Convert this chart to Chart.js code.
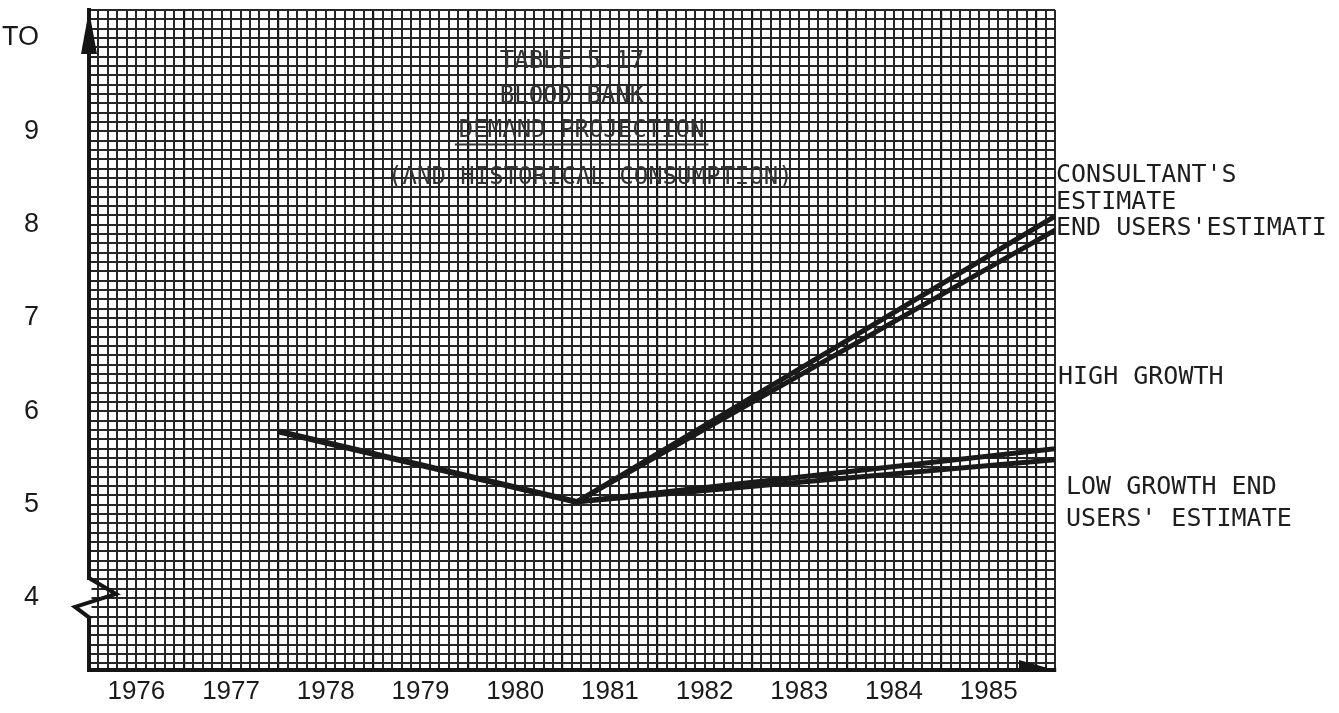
<!DOCTYPE html>
<html><head><meta charset="utf-8">
<script src="https://cdn.jsdelivr.net/npm/chart.js@4.4.0/dist/chart.umd.min.js"></script>
<style>html,body{margin:0;padding:0;background:#fff;}#wrap{width:1339px;height:713px;}</style>
</head><body><div id="wrap"><canvas id="c" width="1339" height="713"></canvas></div>
<script>
// ---- data ----
const xTickYears = [1976, 1977, 1978, 1979, 1980, 1981, 1982, 1983, 1984, 1985];
const xTickLabels = ['1976', '1977', '1978', '1979', '1980', '1981', '1982', '1983', '1984', '1985'];
const yTickValues = [4, 5, 6, 7, 8, 9, 10];
const yTickLabels = ['4', '5', '6', '7', '8', '9', 'TO'];
const historicalYears = [1977.52, 1980.65];
const historicalValues = [5.78, 5.03];
const projectionYears = [1980.65, 1985.7];
const consultantValues = [5.03, 8.09];
const endUsersValues = [5.03, 7.94];
const highGrowthValues = [5.03, 5.60];
const lowGrowthValues = [5.03, 5.48];
const titleLines = ['TABLE 5.17', 'BLOOD BANK', 'DEMAND PROJECTION', '(AND HISTORICAL CONSUMPTION)'];
const sideLabels = [["CONSULTANT'S", 'ESTIMATE'], ["END USERS'ESTIMATI"], ['HIGH GROWTH'], ['LOW GROWTH END', "USERS' ESTIMATE"]];

// ---- layout (not data) ----
const X_MIN = 1975.5, X_MAX = 1985.7, Y_MIN = 3.228, Y_MAX = 10.3;
const GRID_STEP = 0.1;
const sideLabelAnchors = [[8.53, 8.24], [7.96], [6.36], [5.18, 4.84]];
const sideLabelDx = [0, 0, 2, 10];
const titleAnchors = [{v: 9.74, dx: 0.50}, {v: 9.37, dx: 0.50}, {v: 9.01, dx: 0.510}, {v: 8.50, dx: 0.519}];

const r1 = v => Math.round(v * 10) / 10;
const gridTicks = (lo, hi) => { const out = []; for (let k = Math.ceil(lo / GRID_STEP - 1e-6); k * GRID_STEP <= hi + 1e-6; k++) out.push({value: r1(k * GRID_STEP)}); return out; };
const pts = (xs, ys) => xs.map((x, i) => ({x, y: ys[i]}));
const lineStyle = {borderColor: '#1a1a1a', borderWidth: 6, pointRadius: 0, fill: false, tension: 0, borderCapStyle: 'round', borderJoinStyle: 'round'};
const MONO = '"DejaVu Sans Mono", "Liberation Mono", monospace';

const decor = {
  id: 'decor',
  afterDatasetsDraw(chart) {
    const {ctx, chartArea: a, scales} = chart;
    const ys = scales.y;
    ctx.save();
    ctx.font = '24px ' + MONO;
    ctx.fillStyle = '#333';
    ctx.textAlign = 'center';
    ctx.textBaseline = 'middle';
    titleLines.forEach((t, i) => {
      const x = a.left + titleAnchors[i].dx * (a.right - a.left);
      const y = ys.getPixelForValue(titleAnchors[i].v);
      ctx.fillText(t, x, y);
      if (i === 2) {
        const w = ctx.measureText(t).width;
        ctx.strokeStyle = '#333';
        ctx.lineWidth = 2;
        ctx.beginPath();
        ctx.moveTo(x - w / 2 - 4, y + 14);
        ctx.lineTo(x + w / 2 + 4, y + 14);
        ctx.stroke();
      }
    });
    ctx.restore();
  },
  afterDraw(chart) {
    const {ctx, chartArea: a, scales} = chart;
    const ys = scales.y;
    ctx.save();
    ctx.fillStyle = '#151515';
    ctx.beginPath();
    ctx.moveTo(a.left, a.top);
    ctx.lineTo(a.left + 8, a.top + 44);
    ctx.lineTo(a.left - 8, a.top + 44);
    ctx.closePath();
    ctx.fill();
    ctx.beginPath();
    ctx.moveTo(a.right, a.bottom);
    ctx.lineTo(a.right - 36, a.bottom - 10);
    ctx.lineTo(a.right - 36, a.bottom + 2);
    ctx.closePath();
    ctx.fill();
    const y4 = ys.getPixelForValue(4);
    ctx.strokeStyle = '#ffffff';
    ctx.lineWidth = 5;
    ctx.beginPath();
    ctx.moveTo(a.left, y4 - 18);
    ctx.lineTo(a.left, y4 + 18);
    ctx.stroke();
    ctx.strokeStyle = '#151515';
    ctx.lineWidth = 4;
    ctx.lineJoin = 'miter';
    ctx.beginPath();
    ctx.moveTo(a.left, y4 - 20);
    ctx.lineTo(a.left + 27, y4 - 4);
    ctx.lineTo(a.left - 14, y4 + 9);
    ctx.lineTo(a.left + 2, y4 + 21);
    ctx.stroke();
    ctx.font = '25px ' + MONO;
    ctx.fillStyle = '#1e1e1e';
    ctx.textAlign = 'left';
    ctx.textBaseline = 'middle';
    sideLabels.forEach((lines, i) => {
      lines.forEach((t, j) => {
        ctx.fillText(t, a.right + 1 + sideLabelDx[i], ys.getPixelForValue(sideLabelAnchors[i][j]));
      });
    });
    ctx.restore();
  }
};

const isMajorX = v => Math.abs(Math.round(v * 10) % 10) === 5;

new Chart(document.getElementById('c'), {
  type: 'line',
  data: {
    datasets: [
      Object.assign({label: 'Historical consumption', data: pts(historicalYears, historicalValues)}, lineStyle),
      Object.assign({label: "Consultant's estimate", data: pts(projectionYears, consultantValues)}, lineStyle, {borderWidth: 5}),
      Object.assign({label: "End users' estimate", data: pts(projectionYears, endUsersValues)}, lineStyle, {borderWidth: 5}),
      Object.assign({label: 'High growth', data: pts(projectionYears, highGrowthValues)}, lineStyle, {borderWidth: 5}),
      Object.assign({label: "Low growth end users' estimate", data: pts(projectionYears, lowGrowthValues)}, lineStyle, {borderWidth: 5})
    ]
  },
  options: {
    responsive: false,
    animation: false,
    devicePixelRatio: 1,
    layout: {padding: {top: 10, right: 284, left: 0, bottom: 0}},
    plugins: {legend: {display: false}, tooltip: {enabled: false}},
    scales: {
      x: {
        type: 'linear', position: 'bottom', min: X_MIN, max: X_MAX,
        afterFit: s => { s.height = 43; s.paddingLeft = 0; s.paddingRight = 0; },
        afterBuildTicks: s => { s.ticks = gridTicks(X_MIN, X_MAX); },
        ticks: {
          autoSkip: false, maxRotation: 0, minRotation: 0, padding: 6, color: '#1a1a1a',
          font: {family: '"Liberation Sans", Arial, sans-serif', size: 26},
          callback: v => { const i = xTickYears.indexOf(r1(v)); return i >= 0 ? xTickLabels[i] : ''; }
        },
        grid: {drawTicks: false, color: c => (isMajorX(c.tick.value) ? '#151515' : '#262626'), lineWidth: c => (isMajorX(c.tick.value) ? 2.2 : 2)},
        border: {display: true, color: '#151515', width: 4}
      },
      y: {
        type: 'linear', position: 'left', min: Y_MIN, max: Y_MAX,
        afterFit: s => { s.width = 89; s.paddingTop = 0; s.paddingBottom = 0; },
        afterBuildTicks: s => { s.ticks = gridTicks(Y_MIN, Y_MAX); },
        ticks: {
          autoSkip: false, padding: 50, color: '#1a1a1a',
          font: {family: '"Liberation Sans", Arial, sans-serif', size: 27},
          callback: v => { const i = yTickValues.indexOf(r1(v)); return i >= 0 ? yTickLabels[i] : ''; }
        },
        grid: {drawTicks: false, color: '#262626', lineWidth: 2},
        border: {display: true, color: '#151515', width: 4}
      }
    }
  },
  plugins: [decor]
});
</script>
</body></html>
